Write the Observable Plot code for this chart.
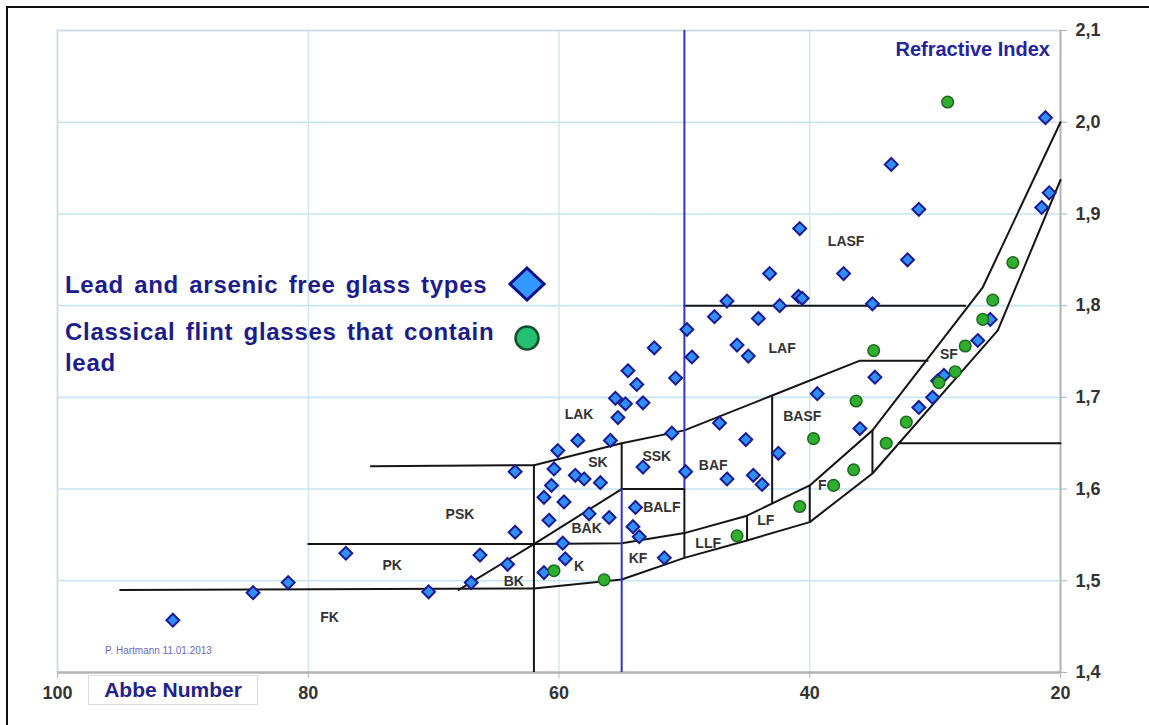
<!DOCTYPE html>
<html><head><meta charset="utf-8">
<script src="https://cdn.jsdelivr.net/npm/d3@7"></script>
<script src="https://cdn.jsdelivr.net/npm/@observablehq/plot@0.6"></script>
<style>
html,body{margin:0;padding:0;background:#fff;}
#wrap{position:relative;width:1149px;height:725px;overflow:hidden;font-family:"Liberation Sans",Arial,sans-serif;}
#chart{position:absolute;left:0;top:0;}
#frame{position:absolute;left:6px;top:6px;width:1300px;height:900px;border-left:2px solid #111;border-top:2px solid #111;pointer-events:none;}
.leg{position:absolute;left:65px;color:#1c1c8c;font-weight:bold;font-size:24px;line-height:31px;word-spacing:3px;letter-spacing:0.7px;white-space:nowrap;}
#ri{position:absolute;right:99px;top:38px;color:#2424a0;font-weight:bold;font-size:20px;white-space:nowrap;}
#abbe{position:absolute;left:88px;top:675px;width:170px;height:30px;border:1px solid #dcdcdc;box-sizing:border-box;color:#22228c;font-weight:bold;font-size:21px;line-height:28px;text-align:center;background:#fff;}
#copy{position:absolute;left:105px;top:645px;font-size:10px;color:#6a6ac0;white-space:nowrap;}
.sym{position:absolute;}
</style>
</head><body>
<div id="wrap">
  <div id="chart"></div>
  <div id="frame"></div>
  <div class="leg" style="top:269px;">Lead and arsenic free glass types</div>
  <div class="leg" style="top:316px;">Classical flint glasses that contain<br>lead</div>
  <svg class="sym" style="left:508px;top:266px;" width="38" height="36"><path d="M19,2 L36,18 L19,34 L2,18 Z" fill="#3399ff" stroke="#10108a" stroke-width="3"/></svg>
  <svg class="sym" style="left:513px;top:324px;" width="28" height="28"><circle cx="14" cy="14" r="11.5" fill="#22c070" stroke="#14502c" stroke-width="2.5"/></svg>
  <div id="ri">Refractive Index</div>
  <div id="abbe">Abbe Number</div>
  <div id="copy">P. Hartmann 11.01.2013</div>
</div>
<script>
// axis ticks
const xTicks = [100, 80, 60, 40, 20];
const yTicks = [1.4, 1.5, 1.6, 1.7, 1.8, 1.9, 2.0, 2.1];
const xGrid = [80, 60, 40];
const yGrid = [1.5, 1.6, 1.7, 1.8, 1.9, 2.0];

// lead and arsenic free glass types [Abbe number, refractive index]
const leadFreeGlasses = [
  [21.2, 2.005], [33.5, 1.954], [31.3, 1.905], [20.9, 1.923], [21.5, 1.907],
  [40.8, 1.884], [32.2, 1.850], [43.2, 1.835], [37.3, 1.835], [40.9, 1.810],
  [40.6, 1.808], [42.4, 1.800], [35.0, 1.802], [46.6, 1.805], [47.6, 1.788],
  [44.1, 1.786], [49.8, 1.774], [52.4, 1.754], [45.8, 1.757], [44.9, 1.745],
  [49.4, 1.744], [54.5, 1.729], [50.7, 1.721], [53.8, 1.714], [55.5, 1.699],
  [54.7, 1.693], [53.3, 1.694], [55.3, 1.678], [47.2, 1.672], [51.0, 1.661],
  [45.1, 1.654], [58.5, 1.653], [55.9, 1.653], [60.1, 1.642], [34.8, 1.722],
  [39.4, 1.704], [36.0, 1.666], [42.5, 1.639], [49.9, 1.619], [46.6, 1.611],
  [44.5, 1.615], [43.8, 1.605], [63.5, 1.619], [60.4, 1.622], [53.3, 1.624],
  [58.7, 1.615], [58.0, 1.611], [56.7, 1.607], [60.6, 1.604], [61.2, 1.591],
  [59.6, 1.586], [53.9, 1.580], [60.8, 1.566], [57.6, 1.573], [56.0, 1.569],
  [54.1, 1.559], [53.6, 1.548], [63.5, 1.553], [59.7, 1.541], [59.5, 1.524],
  [66.3, 1.528], [64.1, 1.518], [61.2, 1.509], [67.0, 1.498], [51.6, 1.525],
  [70.4, 1.488], [77.0, 1.530], [81.6, 1.498], [84.4, 1.487], [90.8, 1.457],
  [25.6, 1.785], [26.6, 1.762], [29.3, 1.724], [29.8, 1.718], [30.2, 1.700],
  [31.3, 1.689]
];

// classical flint glasses containing lead
const leadGlasses = [
  [29.0, 2.022], [23.8, 1.847], [25.4, 1.806], [26.2, 1.785], [27.6, 1.756],
  [28.4, 1.728], [29.7, 1.716], [32.3, 1.673], [33.9, 1.650], [34.9, 1.751],
  [36.3, 1.696], [39.7, 1.655], [36.5, 1.621], [38.1, 1.604], [40.8, 1.581],
  [45.8, 1.549], [56.4, 1.501], [60.4, 1.511]
];

// glass-type region boundaries
const lowerFlintBoundary = [[95, 1.49], [62, 1.4916], [55, 1.5014], [50, 1.525], [45, 1.544], [40, 1.564], [35, 1.617], [25, 1.773], [20, 1.937]];
const upperFlintBoundary = [[80, 1.54], [62, 1.54], [55, 1.541], [50, 1.552], [45, 1.571], [40, 1.604], [35, 1.664], [26.2, 1.82], [20, 2.0]];
const lanthanumBoundary = [[75, 1.625], [62, 1.626], [55, 1.65], [50, 1.664], [43, 1.702], [36, 1.74], [30.6, 1.74]];
const lasfBoundary = [[50, 1.80], [27.6, 1.80]];
const sfBoundary = [[32.9, 1.65], [20, 1.65]];
const bariumBoundary = [[68, 1.49], [62, 1.54], [55, 1.60]];
const balfTop = [[55, 1.60], [50, 1.60]];
const boundaryLines = [lowerFlintBoundary, upperFlintBoundary, lanthanumBoundary, lasfBoundary, sfBoundary, bariumBoundary, balfTop];

// vertical separators [Abbe number, n from, n to]
const blackVerticals = [[62, 1.4, 1.626], [55, 1.60, 1.65], [50, 1.525, 1.60], [45, 1.544, 1.571], [40, 1.564, 1.604], [35, 1.617, 1.664], [43, 1.584, 1.702]];
const blueVerticals = [[50, 1.60, 2.1], [55, 1.4, 1.60]];

// glass type labels
const glassNames = ["FK", "PK", "PSK", "BK", "K", "BAK", "KF", "BALF", "LLF", "LF", "F", "SK", "SSK", "BAF", "BASF", "LAK", "LAF", "LASF", "SF"];
const glassNameX = [78.3, 73.3, 67.9, 63.6, 58.4, 57.8, 53.7, 51.8, 48.1, 43.5, 39.0, 56.9, 52.2, 47.7, 40.6, 58.4, 42.2, 37.1, 28.9];
const glassNameN = [1.460, 1.517, 1.572, 1.499, 1.516, 1.557, 1.524, 1.580, 1.541, 1.566, 1.604, 1.629, 1.636, 1.626, 1.679, 1.681, 1.753, 1.870, 1.747];

const labels = glassNames.map((t, i) => ({t, x: glassNameX[i], n: glassNameN[i]}));

const marks = [
  Plot.ruleX(xGrid, {stroke: "#c6e5f3", strokeWidth: 1.3}),
  Plot.ruleY(yGrid, {stroke: "#c6e5f3", strokeWidth: 1.6}),
  Plot.ruleY([2.1], {stroke: "#d2dde6", strokeWidth: 2}),
  Plot.ruleX([100], {stroke: "#d2dde6", strokeWidth: 2}),
  Plot.ruleX([20], {stroke: "#b3b3b3", strokeWidth: 2}),
  Plot.ruleY([1.4], {stroke: "#b3b3b3", strokeWidth: 2.5}),
  Plot.axisX(xTicks, {anchor: "bottom", label: null, tickSize: 6, tickPadding: 8, stroke: "#b3b3b3", fill: "#333", fontSize: 18, fontWeight: "bold", tickFormat: d => String(d)}),
  Plot.axisY(yTicks, {anchor: "right", label: null, tickSize: 6, tickPadding: 9, stroke: "#b3b3b3", fill: "#333", fontSize: 18, fontWeight: "bold", tickFormat: d => d.toFixed(1).replace(".", ",")}),
  ...boundaryLines.map(L => Plot.line(L, {x: d => d[0], y: d => d[1], stroke: "#151515", strokeWidth: 2})),
  Plot.ruleX(blackVerticals, {x: d => d[0], y1: d => d[1], y2: d => d[2], stroke: "#151515", strokeWidth: 2}),
  Plot.ruleX(blueVerticals, {x: d => d[0], y1: d => d[1], y2: d => d[2], stroke: "#3434c8", strokeWidth: 2}),
  Plot.text(labels, {x: "x", y: "n", text: "t", fontSize: 14, fontWeight: "bold", fill: "#333"}),
  Plot.dot(leadFreeGlasses, {x: d => d[0], y: d => d[1], symbol: "diamond2", r: 5.8, fill: "#2f8ff5", stroke: "#1a1a96", strokeWidth: 2}),
  Plot.dot(leadGlasses, {x: d => d[0], y: d => d[1], r: 5.8, fill: "#2fae2f", stroke: "#1c6a1c", strokeWidth: 1.5})
];

const chart = Plot.plot({
  width: 1149, height: 725,
  marginLeft: 57, marginRight: 89, marginTop: 30, marginBottom: 53,
  x: {domain: [100, 20], axis: null, label: null},
  y: {domain: [1.4, 2.1], axis: null, label: null},
  style: {fontFamily: "'Liberation Sans', Arial, sans-serif", background: "transparent"},
  marks
});
document.getElementById("chart").appendChild(chart);
</script>
</body></html>
